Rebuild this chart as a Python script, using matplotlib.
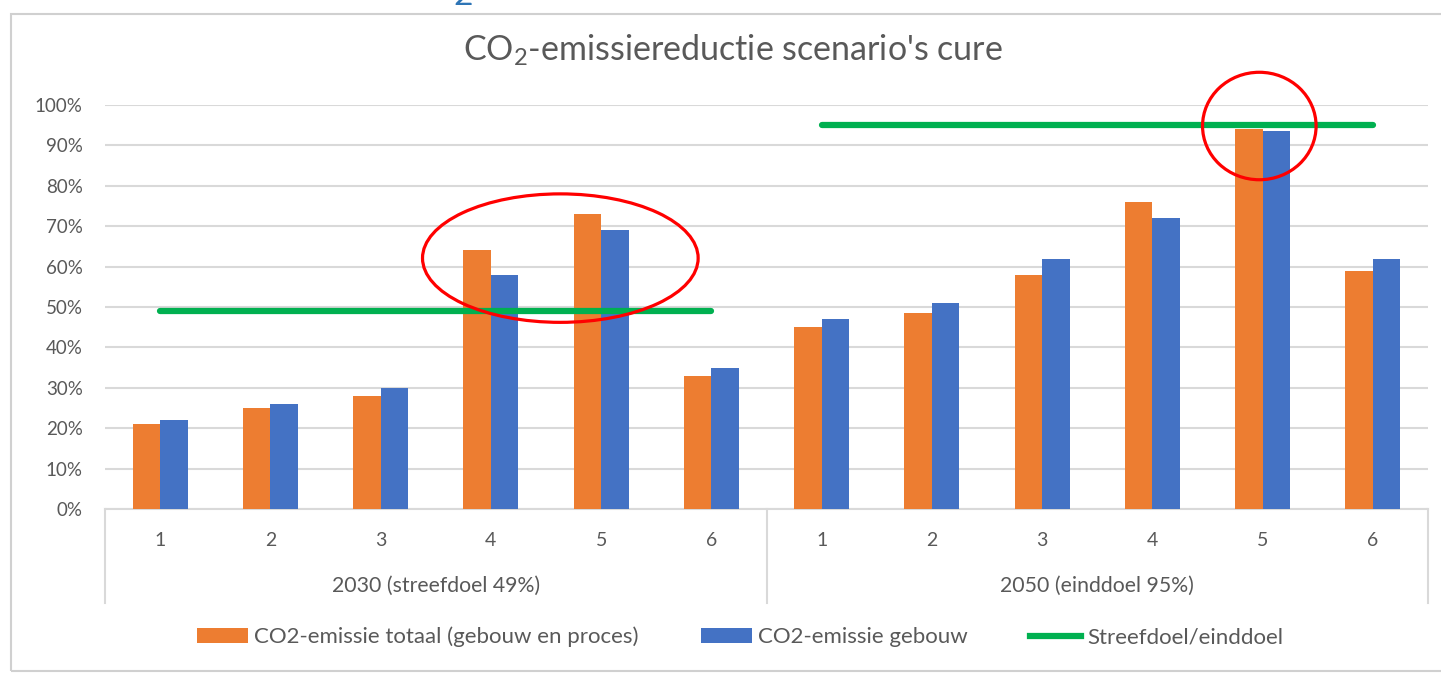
import matplotlib
matplotlib.use("Agg")
import matplotlib.pyplot as plt
import matplotlib.transforms as mtransforms
from matplotlib.patches import Ellipse, Rectangle, Patch
from matplotlib.lines import Line2D

# ---------------- data ----------------
scenarios = ["1", "2", "3", "4", "5", "6"]
groups = ["2030 (streefdoel 49%)", "2050 (einddoel 95%)"]
totaal_2030 = [21, 25, 28, 64, 73, 33]
totaal_2050 = [45, 48.5, 58, 76, 94, 59]
gebouw_2030 = [22, 26, 30, 58, 69, 35]
gebouw_2050 = [47, 51, 62, 72, 93.5, 62]
doel = [49, 95]
yticks = [0, 10, 20, 30, 40, 50, 60, 70, 80, 90, 100]
legend_labels = ["CO2-emissie totaal (gebouw en proces)", "CO2-emissie gebouw", "Streefdoel/einddoel"]
title = "CO$_2$-emissiereductie scenario's cure"

# ---------------- style ----------------
ORANGE = "#ed7d31"
BLUE = "#4472c4"
GREEN = "#00b050"
GRID = "#d9d9d9"
TXT = "#595959"
FONT = "Lato"
plt.rcParams["font.family"] = [FONT, "DejaVu Sans"]
plt.rcParams["mathtext.fontset"] = "custom"
plt.rcParams["mathtext.rm"] = FONT
plt.rcParams["mathtext.it"] = FONT
plt.rcParams["mathtext.bf"] = FONT

W, H = 1441, 673
fig = plt.figure(figsize=(W / 100, H / 100), dpi=100)
fig.patch.set_facecolor("white")

# chart border
fig.patches.append(Rectangle((11 / W, 1 - 671 / H), (W - 11) / W + 0.01, (671 - 14) / H,
                             transform=fig.transFigure, fill=False, edgecolor="#d0d0d0",
                             linewidth=1.5, zorder=0))
# cropped heading fragment above the chart (cut off at the top, as in the source)
fig.text(463 / W, 1 - 5 / H, "2", color="#2e75b6", fontsize=24, ha="center", va="baseline")

left, right, bottom, top = 105, 1428, 509, 105
ax = fig.add_axes([left / W, 1 - bottom / H, (right - left) / W, (bottom - top) / H])

totaal = totaal_2030 + totaal_2050
gebouw = gebouw_2030 + gebouw_2050
n = len(totaal)
xs = list(range(n))
bw = 0.25
ax.bar([x - bw / 2 for x in xs], totaal, width=bw, color=ORANGE, zorder=3)
ax.bar([x + bw / 2 for x in xs], gebouw, width=bw, color=BLUE, zorder=3)

# target lines
ns = len(scenarios)
for g, d in enumerate(doel):
    ax.plot([g * ns, g * ns + ns - 1], [d, d], color=GREEN, linewidth=4.5,
            solid_capstyle="round", zorder=4)

ax.set_xlim(-0.5, n - 0.5)
ax.set_ylim(0, 100)
ax.set_yticks(yticks)
ax.set_yticklabels([f"{v}%" for v in yticks])
ax.tick_params(axis="y", length=0, pad=16, labelsize=13.5, labelcolor=TXT)
ax.set_xticks([])
for s in ["top", "right", "left"]:
    ax.spines[s].set_visible(False)
ax.spines["bottom"].set_color(GRID)
ax.spines["bottom"].set_linewidth(1.5)
ax.yaxis.grid(True, color=GRID, linewidth=1.5, zorder=0)
ax.set_axisbelow(True)

trans = mtransforms.blended_transform_factory(ax.transData, ax.transAxes)
ph = bottom - top
for i in xs:
    ax.text(i, -(541 - bottom) / ph, scenarios[i % ns], transform=trans, ha="center",
            va="center", fontsize=14, color=TXT)
for g, name in enumerate(groups):
    ax.text(g * ns + (ns - 1) / 2, -(586 - bottom) / ph, name, transform=trans,
            ha="center", va="center", fontsize=15.3, color=TXT)
for xsep in [-0.5, ns - 0.5, n - 0.5]:
    ax.plot([xsep, xsep], [0, -(603 - bottom) / ph], transform=trans, color=GRID,
            linewidth=1.5, clip_on=False)

# red highlight ellipses (annotation)
ax.add_patch(Ellipse((3.63, 62.1), 2.5, 31.8, fill=False, edgecolor="#ff0000",
                     linewidth=2.3, zorder=6, clip_on=False))
ax.add_patch(Ellipse((9.97, 94.8), 1.03, 26.6, fill=False, edgecolor="#ff0000",
                     linewidth=2.3, zorder=6, clip_on=False))

fig.text(733 / W, 1 - 50 / H, title, ha="center", va="center", fontsize=24.5, color=TXT)

handles = [Patch(facecolor=ORANGE, edgecolor="none"),
           Patch(facecolor=BLUE, edgecolor="none"),
           Line2D([], [], color=GREEN, linewidth=4.5)]
leg = fig.legend(handles, legend_labels, loc="center", bbox_to_anchor=(740 / W, 1 - 637 / H),
                 ncol=3, frameon=False, fontsize=16, handlelength=2.3, handleheight=0.6,
                 handletextpad=0.27, columnspacing=2.8, labelcolor=TXT)

fig.savefig("out.png", dpi=100)
